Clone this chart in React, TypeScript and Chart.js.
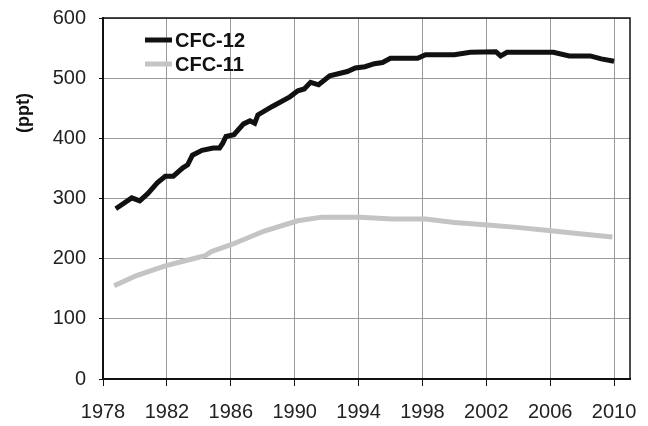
import React, { useEffect, useRef } from "react";
import { Chart, registerables } from "chart.js";

Chart.register(...registerables);

const seriesNames = ["CFC-12", "CFC-11"];
const cfc12Years = [1978.8, 1979.8, 1980.3, 1980.8, 1981.4, 1981.9, 1982.4, 1983.0, 1983.3, 1983.6, 1984.2, 1984.9, 1985.3, 1985.5, 1985.7, 1986.2, 1986.8, 1987.2, 1987.5, 1987.7, 1988.6, 1989.7, 1990.2, 1990.6, 1991.0, 1991.5, 1992.2, 1993.3, 1993.8, 1994.4, 1995.0, 1995.5, 1996.0, 1997.7, 1998.2, 2000.0, 2001.0, 2002.6, 2002.9, 2003.3, 2006.2, 2007.2, 2008.5, 2009.2, 2010.0];
const cfc12Values = [283, 301, 296, 308, 326, 337, 337, 351, 356, 372, 380, 384, 384, 392, 403, 406, 424, 429, 425, 439, 453, 469, 479, 482, 493, 489, 504, 511, 517, 519, 524, 526, 533, 533, 539, 539, 543, 544, 537, 543, 543, 537, 537, 532, 528];
const cfc11Years = [1978.7, 1980.1, 1981.9, 1983.2, 1984.4, 1984.8, 1986.1, 1988.1, 1990.2, 1991.7, 1994.1, 1996.1, 1998.2, 2000.0, 2002.1, 2003.9, 2005.9, 2008.0, 2009.9];
const cfc11Values = [155, 172, 188, 197, 205, 212, 224, 246, 263, 269, 269, 266, 266, 260, 256, 252, 247, 241, 236];
const xTicks = [1978, 1982, 1986, 1990, 1994, 1998, 2002, 2006, 2010];
const yTicks = [0, 100, 200, 300, 400, 500, 600];
const yTitle = "(ppt)";

const FONT = "'Liberation Sans', Arial, sans-serif";

export default function App() {
  const ref = useRef<HTMLCanvasElement>(null);
  useEffect(() => {
    document.body.style.margin = "0";
    const ctx = ref.current!;
    const framePlugin = {
      id: "frame",
      afterDatasetsDraw(chart: any) {
        const { ctx: c, chartArea: a } = chart;
        c.save();
        c.strokeStyle = "#111";
        c.lineWidth = 1.5;
        c.beginPath();
        c.moveTo(a.left, a.top);
        c.lineTo(a.right, a.top);
        c.lineTo(a.right, a.bottom);
        c.stroke();
        // legend
        const items = chart.data.datasets;
        items.forEach((ds: any, i: number) => {
          const y = a.top + 22 + i * 24;
          c.strokeStyle = ds.borderColor;
          c.lineWidth = ds.borderWidth;
          c.beginPath();
          c.moveTo(a.left + 42, y);
          c.lineTo(a.left + 69, y);
          c.stroke();
          c.fillStyle = "#111";
          c.font = `bold 20px ${FONT}`;
          c.textBaseline = "middle";
          c.textAlign = "left";
          c.fillText(ds.label, a.left + 72, y + 1);
        });
        // y title
        c.save();
        c.translate(24, a.top + 95);
        c.rotate(-Math.PI / 2);
        c.font = `bold 18px ${FONT}`;
        c.textAlign = "center";
        c.textBaseline = "middle";
        c.fillStyle = "#111";
        c.fillText(yTitle, 0, 0);
        c.restore();
        c.restore();
      },
    };
    const chart = new Chart(ctx, {
      type: "line",
      data: {
        datasets: [
          {
            label: seriesNames[0],
            data: cfc12Years.map((x, i) => ({ x, y: cfc12Values[i] })),
            borderColor: "#111111",
            borderWidth: 5,
            pointRadius: 0,
            tension: 0,
          },
          {
            label: seriesNames[1],
            data: cfc11Years.map((x, i) => ({ x, y: cfc11Values[i] })),
            borderColor: "#c4c4c4",
            borderWidth: 5,
            pointRadius: 0,
            tension: 0,
          },
        ],
      },
      options: {
        animation: false,
        responsive: false,
        layout: { padding: { top: 18, right: 18, left: 0, bottom: 0 } },
        plugins: { legend: { display: false }, tooltip: { enabled: false } },
        scales: {
          x: {
            type: "linear",
            min: 1978,
            max: 2011,
            afterBuildTicks: (s: any) => {
              s.ticks = xTicks.map((v) => ({ value: v }));
            },
            afterFit: (s: any) => {
              s.height = 47;
              s.paddingLeft = 0;
              s.paddingRight = 0;
            },
            ticks: {
              color: "#222",
              font: { family: FONT, size: 20 },
              padding: 14,
              maxRotation: 0,
              autoSkip: false,
              callback: (v: any) => String(v),
            },
            grid: { color: "#9a9a9a", lineWidth: 1, tickColor: "#111", tickLength: 7 },
            border: { color: "#111", width: 2 },
          },
          y: {
            min: 0,
            max: 600,
            afterBuildTicks: (s: any) => {
              s.ticks = yTicks.map((v) => ({ value: v }));
            },
            afterFit: (s: any) => {
              s.width = 103;
              s.paddingTop = 0;
              s.paddingBottom = 0;
            },
            ticks: {
              color: "#222",
              font: { family: FONT, size: 20 },
              padding: 13,
            },
            grid: { color: "#9a9a9a", lineWidth: 1, tickColor: "#111", tickLength: 4 },
            border: { color: "#111", width: 2 },
          },
        },
      },
      plugins: [framePlugin],
    });
    return () => chart.destroy();
  }, []);
  return (
    <div style={{ width: 648, height: 426, background: "#fff" }}>
      <canvas ref={ref} width={648} height={426} />
    </div>
  );
}
